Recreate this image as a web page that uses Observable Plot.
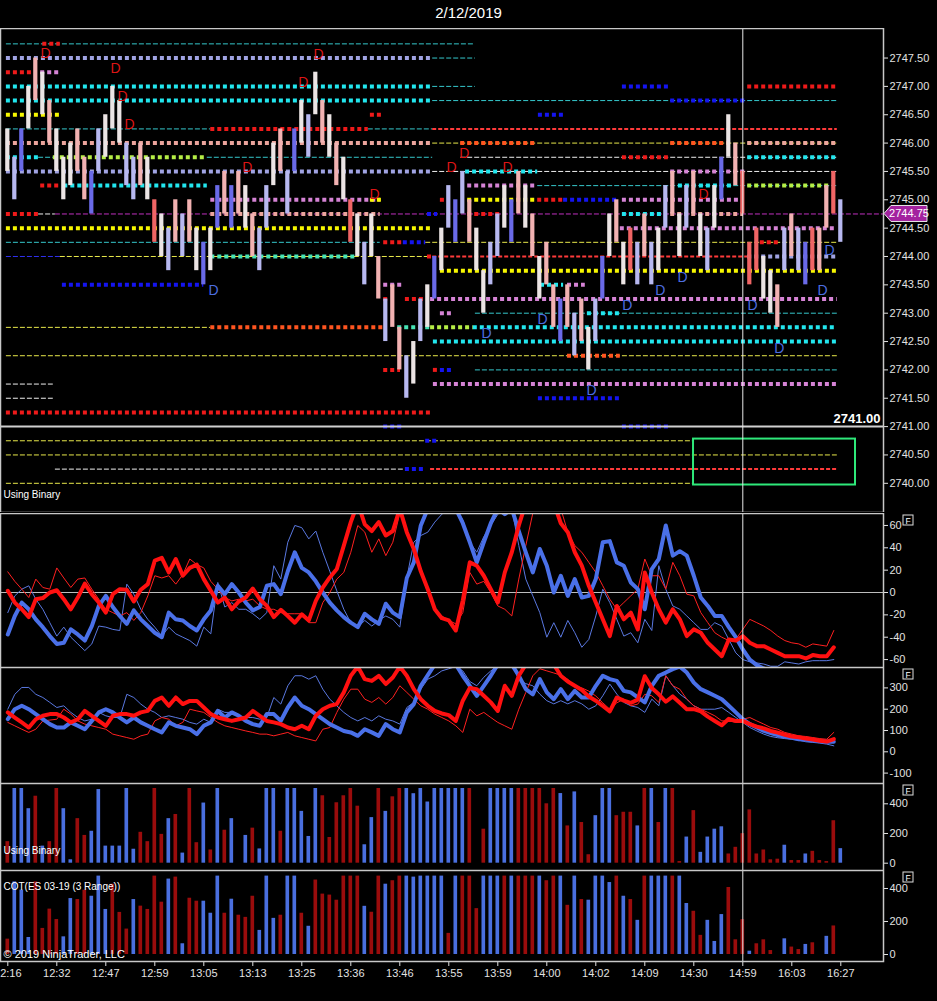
<!DOCTYPE html>
<html><head><meta charset="utf-8">
<script src="https://cdn.jsdelivr.net/npm/d3@7"></script>
<script src="https://cdn.jsdelivr.net/npm/@observablehq/plot@0.6"></script>
<style>
body{margin:0;background:#000;}
#chart{position:relative;width:937px;height:1001px;background:#000;overflow:hidden;font-family:"Liberation Sans",Arial,sans-serif;}
.panel{position:absolute;left:0;}
#title{position:absolute;top:4px;left:0;width:937px;text-align:center;color:#fff;font-size:15px;}
</style></head><body>
<div id="chart"><div id="title">2/12/2019</div></div>
<script>
// ---------- DATA ----------
const timeLabels = ["12:16","12:32","12:47","12:59","13:05","13:13","13:25","13:36","13:46","13:55","13:59","14:00","14:02","14:09","14:30","14:59","16:03","16:27"];
const barRange = 0.75;           // 3-tick range bars
const lastPrice = 2744.75;
const crossBar = 105;            // crosshair at 14:59
const separatorPrice = 2741.0;

// low of each range bar
const lows = [
 2745.5,2745.0,2745.5,2746.25,2746.75,2746.5,2746.0,2745.5,2745.0,2745.25,
 2745.5,2745.0,2744.75,2745.5,2745.75,2746.25,2746.0,2745.25,2745.0,2745.25,
 2745.0,2744.25,2744.0,2743.75,2744.25,2744.0,2744.25,2743.75,2743.5,2743.75,
 2744.5,2744.75,2744.5,2744.75,2744.5,2744.0,2743.75,2744.5,2745.25,2745.5,
 2744.75,2745.5,2746.0,2745.75,2746.5,2746.0,2745.75,2745.25,2745.0,2744.25,
 2744.0,2743.5,2744.0,2743.25,2742.5,2742.75,2742.0,2741.5,2741.75,2742.5,
 2742.75,2743.25,2743.75,2744.5,2744.25,2744.75,2744.25,2743.75,2743.0,2743.5,
 2744.0,2744.5,2744.25,2744.75,2744.5,2744.0,2743.25,2743.5,2742.75,2742.5,
 2742.75,2742.25,2742.5,2742.0,2742.5,2743.25,2744.0,2744.25,2743.5,2743.75,
 2743.5,2744.0,2743.5,2743.75,2744.5,2744.75,2744.0,2744.5,2744.75,2744.0,
 2743.75,2744.5,2745.0,2745.75,2745.25,2744.75,2743.5,2743.75,2743.25,2743.0,
 2742.75,2743.75,2744.0,2743.75,2743.5,2743.75,2743.75,2744.5,2744.75,2744.25];
const candleTone = ("wlbwpwpwww"+"ppblwwwllp"+"wrwlplpwbw"+"bpbpwpllwp"+"lbwlwpwpwr"+
  "wlwplpplwl"+"wbwlblpwwl"+"lwbpwpwppb"+"plpwlbwpwr"+"lplwlpwlpw"+"lwbwprrrww"+"plplbrpprl").split("");

// [price, fromBar, toBar, series]
const thickLevels = [
 [2747.75,5.0,7.5,"red"],[2747.5,-0.2,60.7,"lavender"],[2747.25,-0.2,3.7,"red"],[2747.25,4.7,7.5,"pink"],
 [2747.0,-0.2,60.7,"cyan"],[2747.0,87.8,94.7,"blue"],[2747.0,105.7,118.5,"red"],
 [2746.75,-0.2,60.7,"cyan"],[2746.75,94.7,105.7,"blue"],
 [2746.5,-0.2,7.5,"yellow"],[2746.5,51.8,53.5,"red"],[2746.5,75.8,79.6,"blue"],
 [2746.25,29.0,51.5,"red"],
 [2746.0,-0.2,60.7,"peach"],[2746.0,64.7,75.7,"orange"],[2746.0,94.7,102.8,"orange"],[2746.0,105.7,118.5,"peach"],
 [2745.75,-0.2,4.4,"cyan"],[2745.75,6.5,28.5,"lime"],[2745.75,87.8,94.7,"red"],[2745.75,105.7,118.5,"cyan"],
 [2745.5,-0.2,60.7,"lavender"],[2745.5,65.4,75.7,"cyan"],[2745.5,94.7,105.4,"pink"],
 [2745.25,4.7,7.5,"red"],[2745.25,8.0,28.5,"cyan"],[2745.25,65.7,75.7,"pink"],[2745.25,95.8,103.7,"cyan"],[2745.25,105.7,117.5,"lime"],
 [2745.0,29.0,53.2,"pink"],[2745.0,51.8,53.5,"yellow"],[2745.0,61.8,62.5,"red"],[2745.0,65.7,75.7,"yellow"],[2745.0,75.7,79.4,"red"],[2745.0,79.4,87.1,"blue"],[2745.0,87.8,104.7,"pink"],
 [2744.75,-0.2,4.4,"red"],[2744.75,29.0,53.2,"peach"],[2744.75,59.96,61.4,"blue"],[2744.75,65.7,70.4,"red"],[2744.75,87.8,93.7,"cyan"],[2744.75,94.7,105.1,"peach"],
 [2744.5,-0.2,60.7,"yellow"],[2744.5,87.5,118.5,"pink"],
 [2744.25,53.7,56.5,"red"],[2744.25,56.5,59.7,"blue"],[2744.25,107.5,110.4,"red"],
 [2744.0,29.0,49.96,"aqua"],[2744.0,59.96,60.7,"red"],[2744.0,105.7,118.5,"lavender"],
 [2743.75,61.8,118.5,"yellow"],
 [2743.5,7.8,28.0,"blue"],[2743.5,53.7,56.5,"pink"],[2743.5,76.1,79.4,"cyan"],[2743.5,79.96,82.5,"pink"],
 [2743.25,60.4,118.5,"pink"],[2743.25,53.7,54.7,"red"],[2743.25,56.8,59.7,"red"],
 [2743.0,61.8,63.5,"pink"],[2743.0,82.8,87.5,"cyan"],
 [2742.75,29.0,53.7,"orange"],[2742.75,55.7,60.4,"aqua"],[2742.75,60.4,66.5,"lime"],[2742.75,66.5,118.5,"cyan"],
 [2742.5,60.8,118.5,"cyan"],
 [2742.25,79.96,87.5,"orange"],
 [2742.0,53.7,56.1,"red"],[2742.0,60.8,61.5,"red"],[2742.0,61.8,63.5,"blue"],
 [2741.75,60.8,118.5,"pink"],
 [2741.5,75.8,87.5,"blue"],
 [2741.25,-0.2,60.4,"red"],
 [2741.0,53.7,56.5,"blue"],[2741.0,87.8,94.7,"blue"],
 [2740.75,59.7,61.5,"blue"],[2740.25,56.8,59.7,"blue"]];
const thinLevels = [
 [2747.75,-0.2,66.8,"cyan"],[2747.5,60.7,66.8,"cyan"],[2747.0,60.7,66.8,"cyan"],[2746.75,60.7,118.5,"cyan"],
 [2746.25,-0.2,29.0,"cyan"],[2746.25,51.5,60.7,"cyan"],[2746.0,60.7,118.5,"yellow"],
 [2745.75,4.4,6.5,"cyan"],[2745.75,28.5,60.7,"cyan"],[2745.75,64.7,118.5,"white"],
 [2745.5,60.7,118.5,"white"],[2745.25,75.7,118.5,"cyan"],
 [2744.75,4.4,6.8,"white"],[2744.75,6.8,125.1,"magenta"],
 [2744.25,-0.2,53.2,"cyan"],[2744.25,59.7,118.5,"yellow"],
 [2744.0,-0.2,7.5,"blue"],[2744.0,7.5,59.96,"yellow"],
 [2743.0,66.8,118.5,"cyan"],[2742.75,-0.2,29.0,"yellow"],[2742.25,-0.2,118.5,"yellow"],
 [2742.0,66.8,118.5,"cyan"],[2741.75,-0.2,6.5,"white"],[2741.5,-0.2,6.5,"white"],
 [2740.75,-0.2,97.96,"yellow"],[2740.5,-0.2,118.5,"yellow"],[2740.25,6.8,56.5,"white"],[2740.0,-0.2,97.96,"yellow"]];
const redDashLevels = [[2746.25,60.7,118.5],[2744.0,60.7,105.7],[2740.25,60.4,118.5]];
const greenBox = {from: 97.96, to: 121.1, low: 2739.97, high: 2740.78};

// "D" markers [bar, price]
const topMarks = [[5.4,2747.58],[15.4,2747.32],[16.4,2746.82],[17.4,2746.33],[34.2,2745.57],[42.2,2747.07],
 [44.4,2747.56],[52.4,2745.09],[63.4,2745.57],[65.2,2745.82],[71.4,2745.57],[99.4,2745.09]];
const bottomMarks = [[29.4,2743.4],[68.4,2742.64],[76.4,2742.89],[83.4,2741.64],[88.5,2743.14],[93.2,2743.4],
 [96.4,2743.63],[106.4,2743.14],[110.2,2742.38],[116.4,2743.4],[117.4,2744.1]];

// oscillator panel (-60..60)
const oscRedFast = [1.5,-9,-15,-22,-6,-5,0,2,-6,-15,-4.5,8,-1.5,-9,-18,-1.5,3,2.5,-8,2.5,
 7.5,28.5,31,18,30,15,22,25,12,1.5,-9,-4.5,-15,-8,-4.5,3.5,-6,-12,-22,-15.5,
 -21,-27,-19.5,-25,-7.5,4.5,13.5,21,42,63,80,61,55,63,51,55,75,54,39,19,
 3,-15,-23,-25,-34,-7,27,24,15,3,-9,18,36,60,80,85,85,85,80,62,
 54,36,24,6,-9,-24,-39,-12,-24,-18,-33,18,0,-15,-27,-15,-24,-39,-33,-36,
 -45,-51,-57,-42,-43,-39,-45,-48,-48,-51,-54,-57,-57,-57,-59,-56,-57,-57,-49];
const oscRedSlow = [18.5,10,3,-4.5,12,4.5,3,22,13,4.5,12,13,3,-6,-15,-18,-21,-18,-25,-18,
 -3,15,13,15,7.5,16,30,25,22,10,3,-4.5,-7.5,-6,-7.5,-6,-12,-15,-15,-18,
 -19,-19,-19,-27,-27,-9,0,12,18,36,60,54,36,48,33,45,71,54,36,18,
 0,-15,-21,-25,-28,-18,18,7.5,10,0,-12,-15,-21,12,42,71,80,80,80,75,
 54,42,36,27,18,6,-6,-15,-9,-3,3,30,15,15,3,27,15,-1.5,-3,-18,
 -27,-36,-40,-43,-42,-33,-24,-27,-30,-34,-39,-43,-45,-46,-49,-46,-47,-48,-34];
const oscBlueFast = [-37.5,-21,-9,-15,-24,-31,-39,-46,-45,-33,-37.5,-43,-30,-12,-3,-13,-21,-28,-16,-24,
 -30,-36,-40,-18,-24,-25,-30,-34,-24,-16,6,-1.5,7.5,0,-9,-16,-13,6,7.5,-1.5,
 19,36,22,18,10,0,-9,-16,-22,-27,-31,-19,-24,-28,-10,-18,-22,13,27,60,
 75,80,80,80,75,62,45,27,45,62,75,70,75,55,36,18,39,24,0,15,
 -3,12,-4.5,-3,12,45,46,27,24,9,3,-15,21,30,60,33,37,33,15,-4.5,
 -12,-21,-21,-31,-40,-51,-60,-65,-68,-70,-72,-72,-72,-72,-72,-72,-72,-72,-72];
const oscBlueSlow = [-18,-3,3,6,-6,-15,-27,-39,-31,-40,-46,-52,-46,-30,-31,-33,-34,7.5,-1.5,-15,
 -24,-31,-39,-31,-37,-40,-43,-48,-31,-37,9,-13,-9,-15,-15,-19,-24,-18,24,12,
 45,60,58,48,55,36,19,1.5,-15,-27,-31,-25,-30,-25,-21,-24,-31,13,45,51,
 54,63,70,75,75,65,45,36,50,60,70,75,75,42,12,-3,-18,-40,-27,-40,
 -25,-36,-49,-42,-21,3,-9,-24,-39,-36,-45,-24,-34,24,3,-12,-15,-21,-27,-33,
 -33,-27,-30,-42,-54,-60,-62,-63,-64,-66,-66,-62,-63,-64,-62,-61,-61,-61,-60];

// strength panel (-100..300)
const strRedFast = [185,161,138,114,153,169,177,177,161,138,153,192,169,145,122,169,177,177,169,185,
 192,239,255,216,255,224,239,239,208,177,161,153,145,153,161,192,169,145,138,130,
 114,106,122,106,169,200,216,224,279,357,400,341,333,357,318,349,400,357,294,247,
 216,192,180,172,145,240,300,294,263,232,192,310,263,357,410,420,420,420,410,357,
 330,310,290,260,240,215,190,255,240,230,245,355,300,270,235,260,230,200,200,190,
 165,145,125,155,145,145,130,118,110,98,90,80,72,68,62,58,52,48,60];
const strRedSlow = [138,122,106,91,106,145,149,153,200,177,145,130,122,114,106,83,75,67,59,75,
 83,145,161,153,122,138,200,192,185,161,138,122,114,106,98,91,83,83,75,83,
 91,75,67,59,51,106,114,185,247,294,294,247,232,255,224,255,310,279,247,216,
 200,177,161,145,122,91,200,169,185,161,138,122,106,200,279,357,390,380,370,360,
 340,310,300,285,262,230,200,230,247,216,224,270,263,232,357,310,294,247,216,200,
 185,169,145,145,138,153,161,145,130,114,106,91,83,75,72,67,62,59,91];
const strBlueFast = [153,200,216,200,177,153,130,114,114,138,122,106,145,185,200,185,161,138,161,138,
 122,106,91,138,122,114,106,83,122,138,192,161,185,169,145,130,122,177,177,145,
 208,255,216,200,177,153,130,114,98,91,75,106,91,75,130,106,91,185,224,310,
 360,410,420,420,410,357,310,263,310,357,410,420,410,357,294,270,341,279,247,294,
 247,286,255,255,310,357,341,333,286,279,255,232,310,357,372,388,400,372,325,294,
 279,263,247,216,185,153,130,114,98,88,78,72,66,59,56,53,50,47,47];
const strBlueSlow = [200,270,302,302,270,255,232,208,216,185,161,145,153,185,169,161,161,270,255,224,
 200,185,161,169,161,153,138,130,153,138,200,185,185,169,161,161,153,161,255,224,
 310,357,357,341,357,294,247,216,185,161,145,161,145,169,153,145,130,208,232,294,
 341,357,380,390,400,380,330,310,350,380,400,410,410,340,320,310,271,240,225,240,
 225,240,225,200,216,263,318,271,232,216,208,185,247,216,357,310,271,247,216,200,
 200,200,208,185,161,138,114,98,83,72,66,62,59,55,47,44,41,36,28];

// volume histograms
const binaryVolume = [145,503,503,367,451,115,145,503,367,23,300,187,215,496,115,115,115,503,94,208,
 145,503,194,300,328,68,503,138,405,89,503,222,300,0,187,236,96,503,503,215,
 503,503,349,180,503,454,173,407,454,503,384,124,307,503,349,447,503,503,468,503,
 412,503,503,503,503,503,503,0,229,503,503,503,503,503,503,503,503,400,503,469,
 251,480,274,57,320,503,503,320,343,343,251,503,503,274,503,503,11,176,354,73,
 176,229,245,62,107,199,359,62,89,23,27,121,18,18,62,80,18,11,286,98];
const binarySide = ("rbbbrbrrbb"+"rrbbbbbbbr"+"rrrbrbrrbr"+"brbrbrbbbr"+"bbbbbrrrrr"+"rbbrbrrbbb"+
  "bbbbbbrrrb"+"bbbrrrrrrb"+"rbrrbbbrrr"+"brbrbrrbrb"+"bbbrrrrrrr"+"rbrrbrrrrb").split("");
const cotVolume = [93,440,390,103,440,158,275,212,107,339,333,390,353,475,273,426,255,154,333,293,
 273,475,317,457,469,65,341,323,323,250,475,250,335,238,225,353,146,475,219,238,
 475,475,250,171,451,366,360,329,475,475,475,292,256,475,426,447,475,475,469,475,
 475,475,475,128,475,475,475,278,475,475,475,475,475,475,475,475,475,447,475,475,
 298,475,333,329,475,475,436,475,353,333,207,475,475,475,475,475,475,309,262,116,
 207,79,242,406,89,211,20,65,89,24,0,95,45,30,61,71,0,110,173,0];
const cotSide = ("rbbbrrrrbb"+"rrbbbrrrbr"+"rrrbrbrrbb"+"brbrrrbbbr"+"bbrbrrrrrr"+"rbrrbrrbbb"+
  "bbbrbrrrbb"+"brbrrrbrrb"+"rbrbbbbrbr"+"brbbbrbbrr"+"bbbrrrbrrr"+"rbrrbrrbrb").split("");

// ---------- STYLE ----------
const FONT = "'Liberation Sans', Arial, sans-serif";
const X_DOMAIN = [-1.043, 125.1];
const TONES = {w:"#ebe4e4", l:"#b7b8f0", b:"#6a6ae8", p:"#f2b2b2", r:"#f06565"};
const THICK = {cyan:"#22e6ee", lavender:"#a0a3e3", red:"#ee1a1a", pink:"#d583d5", yellow:"#f7f700", blue:"#1414f0",
  orange:"#ff5520", peach:"#eba49c", lime:"#b6ee46", aqua:"#46e3b5"};
const THIN = {cyan:"#35c8cc", yellow:"#e8e84a", white:"#f0f0f0", magenta:"#c030c0", blue:"#3030f0"};
const SIDE = {b:"#4a6fdf", r:"#9a0c0c"};
const chart = document.getElementById("chart");

function base(height, marginBottom = 0) {
  return {width: 937, height, marginLeft: 0, marginRight: 54, marginTop: 0, marginBottom,
    x: {domain: X_DOMAIN, axis: null}, color: {type: "identity"},
    style: {background: "transparent", color: "#e2e2e2", fontFamily: FONT, fontSize: "11px"}};
}
function place(el, top) { const d = document.createElement("div"); d.className = "panel"; d.style.top = top + "px"; d.append(el); chart.append(d); }
const fBox = (index, scales, values, dim) => {
  const g = d3.create("svg:g");
  const x = dim.width - dim.marginRight + 20, y = dim.marginTop + 2;
  g.append("rect").attr("x", x).attr("y", y).attr("width", 10).attr("height", 10).attr("fill", "#000").attr("stroke", "#ddd");
  g.append("text").attr("x", x + 5).attr("y", y + 8.5).attr("text-anchor", "middle").attr("fill", "#fff")
    .attr("font-size", 8.5).attr("font-family", FONT).text("F");
  return g.node();
};
const frame = () => Plot.frame({stroke: "#c8c8c8", strokeWidth: 1.5});
const cross = () => Plot.ruleX([crossBar], {stroke: "#e8e8e8", strokeWidth: 1});
const yAxis = (ticks, fmt) => Plot.axisY(ticks, {anchor: "right", tickSize: 4, tickPadding: 2, label: null, tickFormat: fmt});

// ---------- PANEL A : price ----------
const candles = lows.map((low, i) => ({i, low, high: low + barRange, tone: candleTone[i]}));
const priceTag = (index, scales, values, dim) => {
  const y = scales.y(lastPrice), x0 = dim.width - dim.marginRight + 1;
  const g = d3.create("svg:g");
  g.append("path").attr("d", `M${x0},${y} L${x0+7},${y-8} H${x0+43} V${y+8} H${x0+7} Z`).attr("fill", "#a3229f").attr("stroke", "#e8e8e8");
  g.append("text").attr("x", x0 + 25).attr("y", y).attr("dy", "0.35em").attr("text-anchor", "middle").attr("fill", "#fff")
    .attr("font-size", 11).attr("font-family", FONT).text(d3.format(".2f")(lastPrice));
  return g.node();
};
const panelA = Plot.plot({
  ...base(484),
  y: {domain: [2739.485, 2748.021]},
  marks: [
    Plot.ruleY(thinLevels, {y: d => d[0], x1: d => d[1], x2: d => d[2], stroke: d => THIN[d[3]], strokeWidth: 1, strokeDasharray: "5,2"}),
    Plot.ruleY(redDashLevels, {y: d => d[0], x1: d => d[1], x2: d => d[2], stroke: "#ff3a3a", strokeWidth: 2, strokeDasharray: "4,2"}),
    Plot.ruleY(thickLevels, {y: d => d[0], x1: d => d[1], x2: d => d[2], stroke: d => THICK[d[3]], strokeWidth: 4, strokeDasharray: "4,3"}),
    Plot.rect(candles, {x1: d => d.i - 0.3, x2: d => d.i + 0.3, y1: "low", y2: "high", fill: d => TONES[d.tone]}),
    Plot.text(topMarks, {x: d => d[0], y: d => d[1], text: () => "D", fill: "#dd1515", fontSize: 14}),
    Plot.text(bottomMarks, {x: d => d[0], y: d => d[1], text: () => "D", fill: "#4d6ee0", fontSize: 14}),
    Plot.rect([greenBox], {x1: "from", x2: "to", y1: "low", y2: "high", stroke: "#2ee87a", strokeWidth: 2, fill: "none"}),
    Plot.ruleY([separatorPrice], {stroke: "#d0d0d0", strokeWidth: 2}),
    cross(),
    Plot.text([separatorPrice], {x: X_DOMAIN[1], y: d => d, text: d => d3.format(".2f")(d), textAnchor: "end", dx: -3, dy: -8,
      fill: "#fff", fontWeight: "bold", fontSize: 13}),
    Plot.text(["Using Binary"], {frameAnchor: "bottom-left", textAnchor: "start", lineAnchor: "middle", dx: 3, dy: -18, fill: "#fff", fontSize: 10}),
    yAxis(d3.range(2740, 2747.6, 0.5), d3.format(".2f")),
    frame(),
    priceTag
  ]
});
place(panelA, 28);

// ---------- PANEL B : oscillator ----------
const panelB = Plot.plot({
  ...base(154),
  y: {domain: [-67.1, 70.7]},
  marks: [
    Plot.ruleY([0], {stroke: "#bdbdbd", strokeWidth: 1}),
    Plot.lineY(oscBlueSlow, {stroke: "#5a78e0", strokeWidth: 1, clip: true}),
    Plot.lineY(oscRedSlow, {stroke: "#ff2020", strokeWidth: 1, clip: true}),
    Plot.lineY(oscBlueFast, {stroke: "#4a70e8", strokeWidth: 4, strokeLinejoin: "round", clip: true}),
    Plot.lineY(oscRedFast, {stroke: "#ff1010", strokeWidth: 4, strokeLinejoin: "round", clip: true}),
    cross(),
    yAxis([-60,-40,-20,0,20,40,60], d => String(d)),
    frame(), fBox
  ]
});
place(panelB, 513);

// ---------- PANEL C : strength ----------
const panelC = Plot.plot({
  ...base(116),
  y: {domain: [-148.8, 395.8]},
  marks: [
    Plot.lineY(strBlueSlow, {stroke: "#5a78e0", strokeWidth: 1, clip: true}),
    Plot.lineY(strRedSlow, {stroke: "#ff2020", strokeWidth: 1, clip: true}),
    Plot.lineY(strBlueFast, {stroke: "#4a70e8", strokeWidth: 4, strokeLinejoin: "round", clip: true}),
    Plot.lineY(strRedFast, {stroke: "#ff1010", strokeWidth: 4, strokeLinejoin: "round", clip: true}),
    cross(),
    yAxis([-100,0,100,200,300], d => String(d)),
    frame(), fBox
  ]
});
place(panelC, 667);

// ---------- PANEL D : binary volume ----------
const panelD = Plot.plot({
  ...base(87),
  y: {domain: [-49.2, 536.7]},
  marks: [
    Plot.rect(binaryVolume, {x1: (d, i) => i - 0.26, x2: (d, i) => i + 0.26, y1: 0, y2: d => d, fill: (d, i) => SIDE[binarySide[i]]}),
    cross(),
    Plot.text(["Using Binary"], {frameAnchor: "bottom-left", textAnchor: "start", lineAnchor: "middle", dx: 3, dy: -20, fill: "#fff", fontSize: 10}),
    yAxis([0,200,400], d => String(d)),
    frame(), fBox
  ]
});
place(panelD, 783);

// ---------- PANEL E : COT volume + time axis ----------
const panelE = Plot.plot({
  ...base(131, 40),
  y: {domain: [-42.4, 509]},
  marks: [
    Plot.rect(cotVolume, {x1: (d, i) => i - 0.26, x2: (d, i) => i + 0.26, y1: 0, y2: d => d, fill: (d, i) => SIDE[cotSide[i]]}),
    cross(),
    Plot.text(["COT(ES 03-19 (3 Range))"], {frameAnchor: "top-left", textAnchor: "start", lineAnchor: "middle", dx: 3, dy: 16, fill: "#fff", fontSize: 10}),
    Plot.text(["© 2019 NinjaTrader, LLC"], {frameAnchor: "bottom-left", textAnchor: "start", lineAnchor: "middle", dx: 3, dy: -7, fill: "#fff", fontSize: 11}),
    yAxis([0,200,400], d => String(d)),
    Plot.axisX(d3.range(0, 120, 7), {anchor: "bottom", tickSize: 5, tickPadding: 3, label: null, tickFormat: d => timeLabels[d / 7]}),
    frame(), fBox
  ]
});
place(panelE, 870);
</script>
</body></html>
